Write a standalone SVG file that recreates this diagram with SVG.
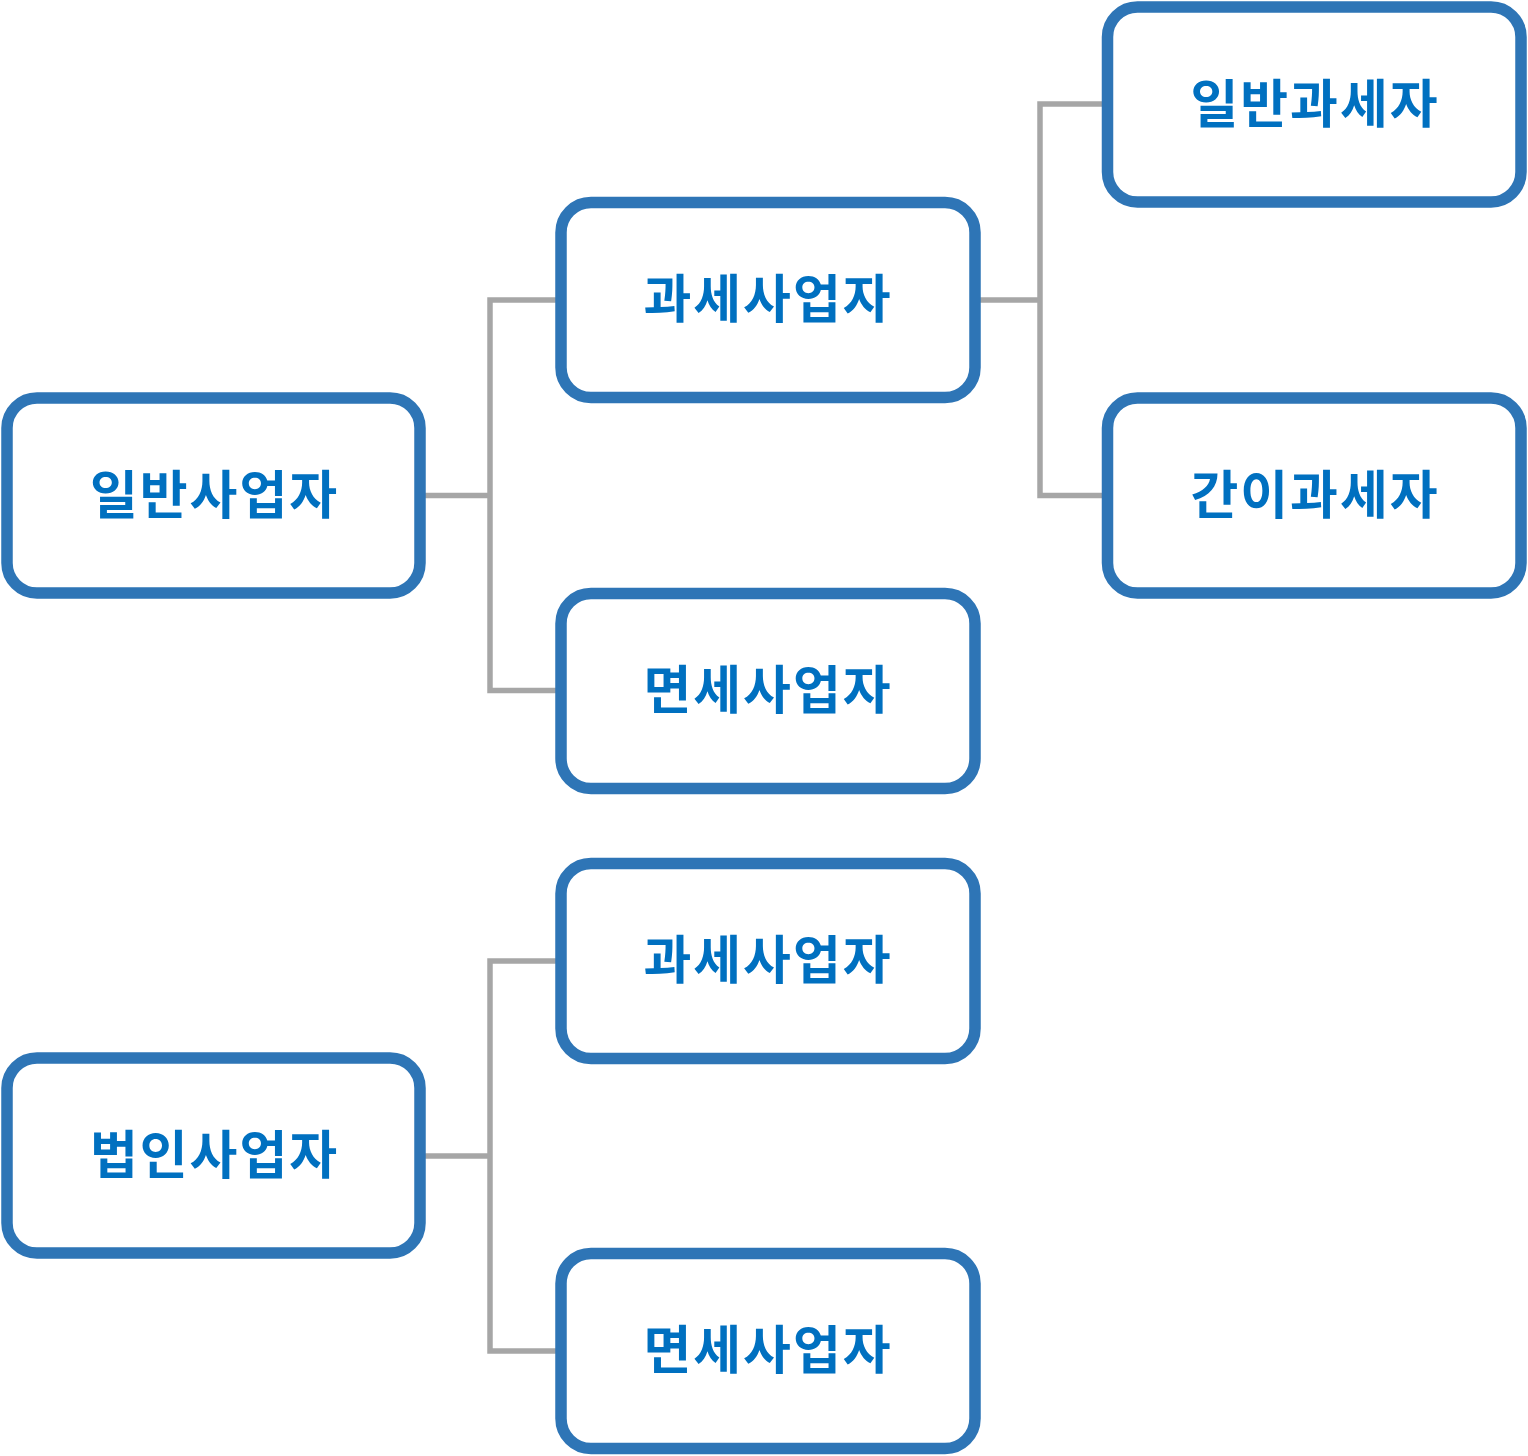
<svg xmlns="http://www.w3.org/2000/svg" width="1528" height="1456" viewBox="0 0 1528 1456">
<style>
.box{fill:#FFFFFF;stroke:#2E75B6;stroke-width:11.5}
.lbl{font-family:"Noto Sans CJK KR","Noto Sans",sans-serif;font-weight:700;font-size:52px;letter-spacing:2px;fill:#0070C0;text-anchor:middle;dominant-baseline:central}
.conn{fill:none;stroke:#A6A6A6;stroke-width:5.5}
</style>
<rect width="1528" height="1456" fill="#FFFFFF"/>
<g id="connectors">
<path class="conn" d="M420,495.5 H490"/>
<path class="conn" d="M561,300 H490 V690.5 H561"/>
<path class="conn" d="M975,300 H1040"/>
<path class="conn" d="M1107,104 H1040 V495.5 H1107"/>
<path class="conn" d="M420,1156 H490"/>
<path class="conn" d="M561,961 H490 V1351 H561"/>
</g>
<g id="n1"><rect class="box" x="7" y="398" width="413" height="195" rx="30"/><text class="lbl" x="214.5" y="491">일반사업자</text></g>
<g id="n2"><rect class="box" x="561" y="202.5" width="414" height="195" rx="30"/><text class="lbl" x="768" y="295.5">과세사업자</text></g>
<g id="n3"><rect class="box" x="561" y="593.5" width="414" height="195" rx="30"/><text class="lbl" x="768" y="686.5">면세사업자</text></g>
<g id="n4"><rect class="box" x="1107.5" y="7" width="413.5" height="195" rx="30"/><text class="lbl" x="1315" y="100">일반과세자</text></g>
<g id="n5"><rect class="box" x="1107.5" y="398" width="413.5" height="195" rx="30"/><text class="lbl" x="1315" y="491">간이과세자</text></g>
<g id="n6"><rect class="box" x="7" y="1058" width="413" height="195" rx="30"/><text class="lbl" x="214.5" y="1151">법인사업자</text></g>
<g id="n7"><rect class="box" x="561" y="863.5" width="414" height="195" rx="30"/><text class="lbl" x="768" y="956.5">과세사업자</text></g>
<g id="n8"><rect class="box" x="561" y="1253.5" width="414" height="195" rx="30"/><text class="lbl" x="768" y="1346.5">면세사업자</text></g>
</svg>
